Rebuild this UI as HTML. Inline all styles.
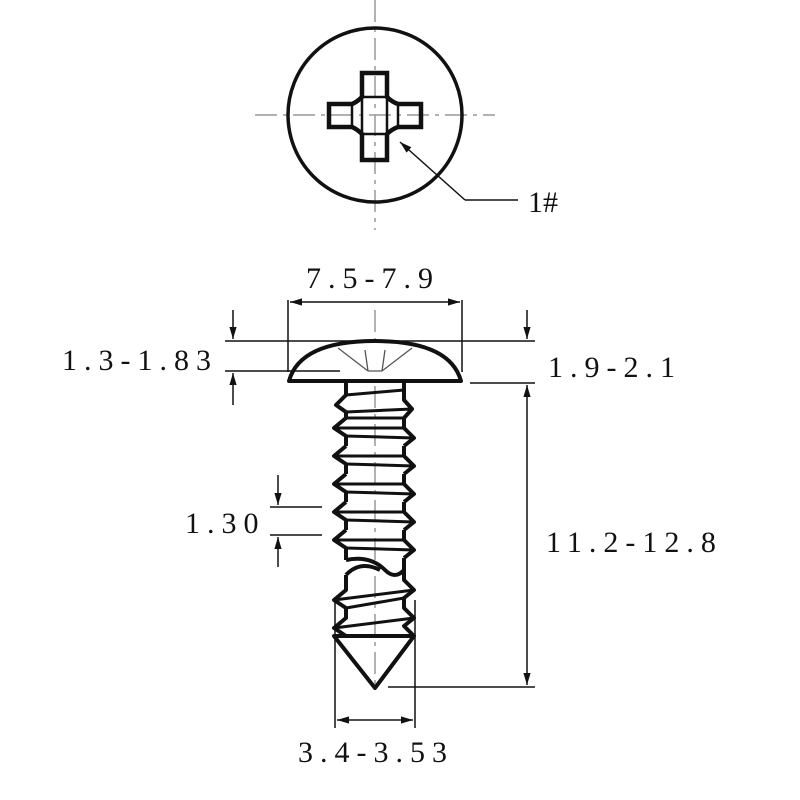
<!DOCTYPE html>
<html><head><meta charset="utf-8"><style>
html,body{margin:0;padding:0;background:#fff}
svg{display:block}
text{font-family:"Liberation Serif","DejaVu Serif",serif;font-size:30px;fill:#111;letter-spacing:7px}
</style></head><body>
<svg width="800" height="800" viewBox="0 0 800 800" xmlns="http://www.w3.org/2000/svg">
<defs>
<marker id="a" viewBox="0 0 10 10" refX="10" refY="5" markerWidth="8" markerHeight="8" orient="auto-start-reverse"><path d="M0,2 L10,5 L0,8 z" fill="#111"/></marker>
</defs>
<g stroke="#999" stroke-width="1.5" stroke-dasharray="22,6,4,6" fill="none">
<line x1="375" y1="0" x2="375" y2="230"/>
<line x1="255" y1="115" x2="495" y2="115"/>
<line x1="375" y1="310" x2="375" y2="690"/>
</g>
<circle cx="375" cy="115" r="87" fill="none" stroke="#111" stroke-width="3.5"/>
<path d="M362,73 H387 V97 Q392,102 398,104 H421 V127 H398 Q392,129 387,134 V160 H362 V134 Q357,129 352,127 H329 V104 H352 Q357,102 362,97 Z" fill="none" stroke="#111" stroke-width="4.5"/>
<rect x="362" y="97" width="25" height="37" fill="none" stroke="#111" stroke-width="2.5"/>
<line x1="352" y1="104" x2="352" y2="127" stroke="#111" stroke-width="2.5"/>
<line x1="398" y1="104" x2="398" y2="127" stroke="#111" stroke-width="2.5"/>
<path d="M465,200 L400,142" stroke="#111" stroke-width="1.5" marker-end="url(#a)"/>
<line x1="465" y1="200" x2="518" y2="200" stroke="#111" stroke-width="1.5"/>
<text x="528" y="212" style="letter-spacing:0">1#</text>

<path d="M289,381 Q300,341 375,341 Q450,341 461,381 Z" fill="#fff" stroke="#111" stroke-width="4" stroke-linejoin="round"/>
<g stroke="#555" stroke-width="1.3" fill="none">
<path d="M338,348 L368,371 M412,348 L382,371 M368,371 H382 M365,350 L368,371 M385,350 L382,371"/>
</g>
<g stroke="#111" stroke-width="4" fill="none" stroke-linejoin="round">
<path d="M346,383 V395 L336,405 L346,412 M404,383 V400 L412,409 L404,418"/>
<path d="M346,418 L334,428 L346,436 M346,446 L334,456 L346,464 M346,474 L334,484 L346,492 M346,502 L334,512 L346,520 M346,530 L334,540 L346,548"/>
<path d="M404,428 L414,438 L404,446 M404,456 L414,466 L404,474 M404,484 L414,494 L404,502 M404,512 L414,522 L404,530 M404,540 L414,550 L404,558"/>
<path d="M346,412 V418 M346,436 V446 M346,464 V474 M346,492 V502 M346,520 V530 M346,548 V560"/>
<path d="M404,418 V428 M404,446 V456 M404,474 V484 M404,502 V512 M404,530 V540 M404,558 V570"/>
<path d="M346,560 Q370,555 385,570 Q395,580 404,570"/>
<path d="M346,575 Q360,560 380,570 M346,575 V590 L334,600 L346,608 V618 L334,628 L346,636"/>
<path d="M404,570 V580 L414,590 L404,598 V608 L414,618 L404,626 L414,636"/>
<path d="M334,636 H414 L375,688 Z"/>
</g>
<g stroke="#111" stroke-width="3">
<line x1="346" y1="412" x2="412" y2="409"/><line x1="346" y1="418" x2="404" y2="418"/>
<line x1="334" y1="428" x2="404" y2="428"/><line x1="346" y1="436" x2="414" y2="438"/>
<line x1="334" y1="456" x2="404" y2="456"/><line x1="346" y1="464" x2="414" y2="466"/>
<line x1="334" y1="484" x2="404" y2="484"/><line x1="346" y1="492" x2="414" y2="494"/>
<line x1="334" y1="512" x2="404" y2="512"/><line x1="346" y1="520" x2="414" y2="522"/>
<line x1="334" y1="540" x2="404" y2="540"/><line x1="346" y1="548" x2="414" y2="550"/>
<line x1="334" y1="600" x2="414" y2="590"/><line x1="346" y1="608" x2="404" y2="598"/>
<line x1="334" y1="628" x2="414" y2="618"/>
<line x1="346" y1="395" x2="404" y2="390"/>
</g>

<g stroke="#111" stroke-width="1.5" fill="none">
<line x1="288" y1="300" x2="288" y2="372"/><line x1="462" y1="300" x2="462" y2="372"/>
<line x1="290" y1="302" x2="460" y2="302" marker-start="url(#a)" marker-end="url(#a)"/>
<line x1="225" y1="341" x2="535" y2="341"/>
<line x1="225" y1="371" x2="340" y2="371"/>
<line x1="233" y1="310" x2="233" y2="339" marker-end="url(#a)"/>
<line x1="233" y1="405" x2="233" y2="373" marker-end="url(#a)"/>
<line x1="470" y1="383" x2="535" y2="383"/>
<line x1="527" y1="310" x2="527" y2="339" marker-end="url(#a)"/>
<line x1="527" y1="385" x2="527" y2="685" marker-start="url(#a)" marker-end="url(#a)"/>
<line x1="388" y1="687" x2="535" y2="687"/>
<line x1="270" y1="507" x2="322" y2="507"/><line x1="270" y1="535" x2="322" y2="535"/>
<line x1="278" y1="475" x2="278" y2="505" marker-end="url(#a)"/>
<line x1="278" y1="567" x2="278" y2="537" marker-end="url(#a)"/>
<line x1="335" y1="600" x2="335" y2="728"/><line x1="415" y1="600" x2="415" y2="728"/>
<line x1="337" y1="720" x2="413" y2="720" marker-start="url(#a)" marker-end="url(#a)"/>
</g>
<text x="306" y="288">7.5-7.9</text>
<text x="62" y="370">1.3-1.83</text>
<text x="548" y="377">1.9-2.1</text>
<text x="185" y="533">1.30</text>
<text x="546" y="552">11.2-12.8</text>
<text x="298" y="762">3.4-3.53</text>
</svg>
</body></html>
